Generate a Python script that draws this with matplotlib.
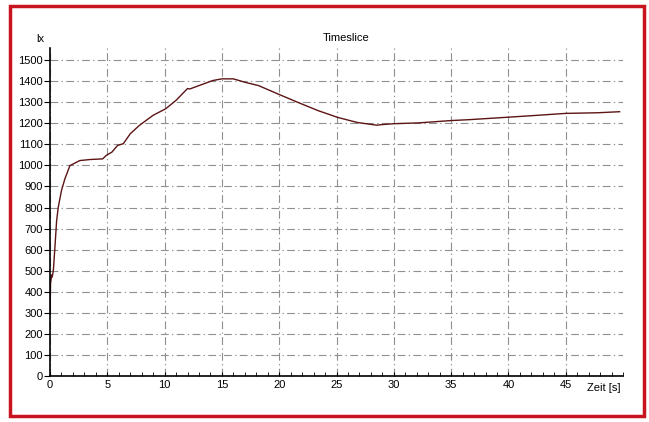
import numpy as np
import matplotlib.pyplot as plt
from matplotlib.patches import Rectangle
from matplotlib.ticker import MultipleLocator

plt.rcParams['font.family'] = ['Liberation Sans', 'DejaVu Sans']

zeit = [0.0, 0.05, 0.15, 0.2, 0.3, 0.43, 0.58, 0.72, 1.0, 1.3, 1.74, 2.6, 3.5,
        4.6, 4.9, 5.4, 5.9, 6.4, 7.0, 7.8, 9.0, 10.1, 11.0, 12.0, 12.2, 13.0,
        14.2, 15.0, 16.0, 17.0, 18.2, 19.9, 21.6, 23.4, 25.1, 26.8, 28.5, 29.0,
        30.0, 32.2, 35.0, 36.5, 40.0, 42.0, 45.0, 47.8, 49.7]
lux = [290, 440, 480, 470, 505, 610, 737, 800, 880, 936, 999, 1023, 1028,
       1031, 1047, 1063, 1095, 1103, 1150, 1190, 1238, 1269, 1309, 1365, 1363, 1379,
       1403, 1411, 1411, 1395, 1379, 1339, 1300, 1260, 1228, 1204, 1191, 1194,
       1198, 1202, 1213, 1217, 1229, 1236, 1247, 1250, 1255]

fig = plt.figure(figsize=(6.49, 4.22), dpi=100)
ax = fig.add_axes([0.077, 0.109, 0.883, 0.777])

ax.plot(zeit, lux, color='#5c1414', lw=1.0)

ax.set_xlim(0, 50)
ax.set_ylim(0, 1557)
ax.xaxis.set_minor_locator(MultipleLocator(1))
ax.set_xticks(range(0, 50, 5))
ax.set_yticks(range(0, 1501, 100))

ax.grid(True, color='#909090', lw=0.8, linestyle=(0, (7, 3, 1.2, 3)))
for s in ['top', 'right']:
    ax.spines[s].set_visible(False)
ax.spines['left'].set_linewidth(1.2)
ax.spines['bottom'].set_linewidth(1.2)

ax.tick_params(axis='y', direction='out', length=4, labelsize=8, pad=1)
ax.tick_params(axis='x', which='both', direction='in', length=3, labelsize=8, pad=3)

ax.text(-0.5, 1600, 'lx', fontsize=8, ha='right', va='center')
ax.text(25.8, 1605, 'Timeslice', fontsize=8, ha='center', va='center')
ax.text(49.8, -58, 'Zeit [s]', fontsize=8, ha='right', va='center')

# roter Rahmen
fig.patches.append(Rectangle((10 / 649, 1 - 416 / 422), 634 / 649, 410 / 422,
                             transform=fig.transFigure, fill=False,
                             edgecolor='#c8141e', lw=2.5))

fig.savefig('out.png', dpi=100)
